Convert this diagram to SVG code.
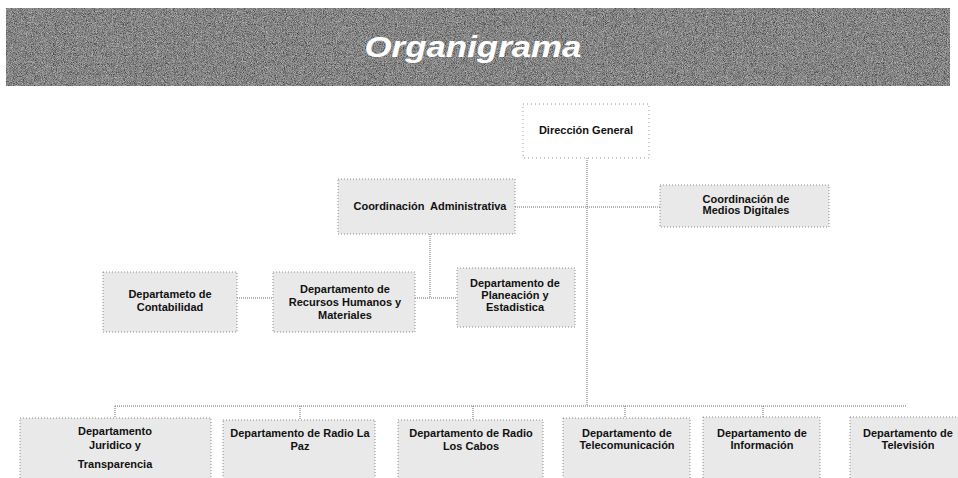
<svg xmlns="http://www.w3.org/2000/svg" width="958" height="478" viewBox="0 0 958 478">
  <defs>
    <filter id="grainDark" x="0" y="0" width="1" height="1">
      <feTurbulence type="fractalNoise" baseFrequency="1.1" numOctaves="1" seed="4"/>
      <feColorMatrix type="matrix" values="0 0 0 0 0  0 0 0 0 0  0 0 0 0 0  -2.6 0 0 0 1.45"/>
    </filter>
    <filter id="grainWhite" x="0" y="0" width="1" height="1">
      <feTurbulence type="fractalNoise" baseFrequency="1.2" numOctaves="1" seed="11"/>
      <feColorMatrix type="matrix" values="0 0 0 0 1  0 0 0 0 1  0 0 0 0 1  2.6 0 0 0 -1.15"/>
    </filter>
    <style>
      .box { fill: #e9e9e9; stroke: #8c8c8c; stroke-width: 1; stroke-dasharray: 1 2; }
      .boxw { fill: #ffffff; stroke: #9a9a9a; stroke-width: 1; stroke-dasharray: 1 3; }
      .lbl { font-family: "Liberation Sans", Arial, sans-serif; font-size: 11px; font-weight: bold; fill: #111; text-anchor: middle; }
      .conn { stroke: #6f6f6f; stroke-width: 1; stroke-dasharray: 1 1; fill: none; }
      .title { font-family: "Liberation Sans", Arial, sans-serif; font-size: 30px; font-weight: bold; font-style: italic; fill: #ffffff; text-anchor: middle; }
    </style>
  </defs>

  <rect width="958" height="478" fill="#ffffff"/>

  <g id="header">
    <rect x="6" y="8" width="944" height="78" fill="#858585"/>
    <rect x="6" y="8" width="944" height="78" filter="url(#grainDark)" opacity="0.6"/>
    <rect x="6" y="8" width="944" height="78" filter="url(#grainWhite)" opacity="0.5"/>
    <text class="title" x="473" y="57" textLength="217" lengthAdjust="spacingAndGlyphs">Organigrama</text>
  </g>

  <g id="connectors">
    <line class="conn" x1="587" y1="158" x2="587" y2="406"/>
    <line class="conn" x1="515" y1="207" x2="660" y2="207"/>
    <line class="conn" x1="430" y1="234" x2="430" y2="298"/>
    <line class="conn" x1="237" y1="298" x2="273" y2="298"/>
    <line class="conn" x1="415" y1="298" x2="457" y2="298"/>
    <line class="conn" x1="115" y1="406" x2="907" y2="406"/>
    <line class="conn" x1="115" y1="406" x2="115" y2="418"/>
    <line class="conn" x1="300" y1="406" x2="300" y2="420"/>
    <line class="conn" x1="473" y1="406" x2="473" y2="420"/>
    <line class="conn" x1="625" y1="406" x2="625" y2="418"/>
    <line class="conn" x1="763" y1="406" x2="763" y2="417"/>
  </g>

  <g id="direccion-general">
    <rect class="boxw" x="523" y="104" width="126" height="54"/>
    <text class="lbl" x="586" y="134">Dirección General</text>
  </g>

  <g id="coordinacion-administrativa">
    <rect class="box" x="338" y="179" width="177" height="55"/>
    <text class="lbl" x="430" y="210" xml:space="preserve">Coordinación  Administrativa</text>
  </g>

  <g id="coordinacion-medios-digitales">
    <rect class="box" x="660" y="185" width="169" height="42"/>
    <text class="lbl" x="746" y="203">Coordinación de</text>
    <text class="lbl" x="746" y="214">Medios Digitales</text>
  </g>

  <g id="depto-contabilidad">
    <rect class="box" x="103" y="272" width="134" height="60"/>
    <text class="lbl" x="170" y="298">Departameto de</text>
    <text class="lbl" x="170" y="311">Contabilidad</text>
  </g>

  <g id="depto-recursos-humanos">
    <rect class="box" x="273" y="272" width="142" height="60"/>
    <text class="lbl" x="345" y="293">Departamento de</text>
    <text class="lbl" x="345" y="306">Recursos Humanos y</text>
    <text class="lbl" x="345" y="319">Materiales</text>
  </g>

  <g id="depto-planeacion">
    <rect class="box" x="457" y="268" width="118" height="59"/>
    <text class="lbl" x="515" y="287">Departamento de</text>
    <text class="lbl" x="515" y="299">Planeación y</text>
    <text class="lbl" x="515" y="311">Estadistica</text>
  </g>

  <g id="depto-juridico">
    <rect class="box" x="20" y="418" width="191" height="64"/>
    <text class="lbl" x="115" y="435">Departamento</text>
    <text class="lbl" x="115" y="449">Juridico y</text>
    <text class="lbl" x="115" y="468">Transparencia</text>
  </g>

  <g id="depto-radio-la-paz">
    <rect class="box" x="223" y="420" width="152" height="62"/>
    <text class="lbl" x="300" y="437">Departamento de Radio La</text>
    <text class="lbl" x="300" y="450">Paz</text>
  </g>

  <g id="depto-radio-los-cabos">
    <rect class="box" x="398" y="420" width="145" height="62"/>
    <text class="lbl" x="471" y="437">Departamento de Radio</text>
    <text class="lbl" x="471" y="450">Los Cabos</text>
  </g>

  <g id="depto-telecomunicacion">
    <rect class="box" x="563" y="418" width="127" height="64"/>
    <text class="lbl" x="627" y="437">Departamento de</text>
    <text class="lbl" x="627" y="449">Telecomunicación</text>
  </g>

  <g id="depto-informacion">
    <rect class="box" x="703" y="417" width="117" height="65"/>
    <text class="lbl" x="762" y="437">Departamento de</text>
    <text class="lbl" x="762" y="449">Información</text>
  </g>

  <g id="depto-television">
    <rect class="box" x="850" y="417" width="120" height="65"/>
    <text class="lbl" x="908" y="437">Departamento de</text>
    <text class="lbl" x="908" y="449">Televisión</text>
  </g>
</svg>
